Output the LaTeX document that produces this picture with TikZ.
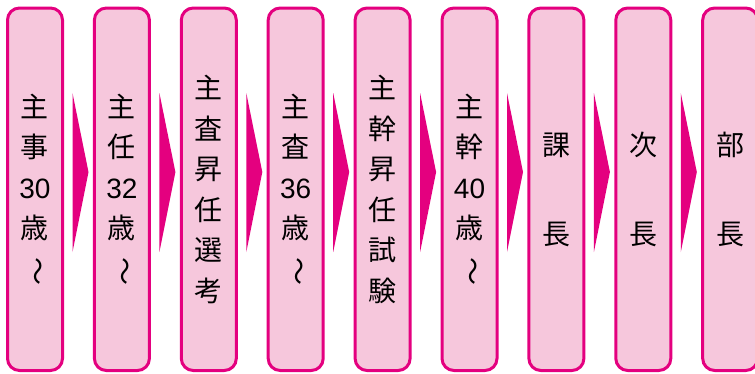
\documentclass[tikz,border=0pt]{standalone}
\usepackage{fontspec}
\newfontfamily\jpfont{Noto Sans CJK JP}
\newfontfamily\latfont{Liberation Sans}
\usetikzlibrary{calc}
\definecolor{mag}{HTML}{E4007F}
\definecolor{pinkfill}{RGB}{246,199,220}
\newcommand\vs{\rule[-0.12em]{0pt}{1em}}
\newcommand\wavy{\rotatebox[origin=c]{-90}{〜}}
\tikzset{
  stagebox/.style={draw=mag, fill=pinkfill, line width=3pt, rounded corners=12pt,
    minimum width=55pt, minimum height=362.5pt, inner sep=0pt, align=center,
    font=\jpfont\fontsize{28}{40.5}\selectfont},
  widebox/.style={stagebox, font=\jpfont\fontsize{28}{89}\selectfont},
  stagearrow/.style={fill=mag, draw=none}
}
\begin{document}
\begin{tikzpicture}[x=1pt, y=-1pt]
\useasboundingbox (0,0) rectangle (755,373);
\clip (0,0) rectangle (755,373);
\node[stagebox] (b1) at (35.0,189.25) {\vs 主\\\vs 事\\\vs{\latfont 30}\\\vs 歳\\\vs\wavy};
\node[stagebox] (b2) at (121.9,189.25) {\vs 主\\\vs 任\\\vs{\latfont 32}\\\vs 歳\\\vs\wavy};
\node[stagebox] (b3) at (208.8,189.25) {\vs 主\\\vs 査\\\vs 昇\\\vs 任\\\vs 選\\\vs 考};
\node[stagebox] (b4) at (295.7,189.25) {\vs 主\\\vs 査\\\vs{\latfont 36}\\\vs 歳\\\vs\wavy};
\node[stagebox] (b5) at (382.6,189.25) {\vs 主\\\vs 幹\\\vs 昇\\\vs 任\\\vs 試\\\vs 験};
\node[stagebox] (b6) at (469.5,189.25) {\vs 主\\\vs 幹\\\vs{\latfont 40}\\\vs 歳\\\vs\wavy};
\node[widebox] (b7) at (556.4,189.25) {\vs 課\\\vs 長};
\node[widebox] (b8) at (643.3,189.25) {\vs 次\\\vs 長};
\node[widebox] (b9) at (730.2,189.25) {\vs 部\\\vs 長};
\foreach \i in {1,...,8}{
  \fill[stagearrow] ($(b\i.east)+(8.5,-96.25)$) -- ($(b\i.east)+(24.5,-17.25)$) -- ($(b\i.east)+(8.5,62.75)$) -- cycle;
}
\end{tikzpicture}
\end{document}
